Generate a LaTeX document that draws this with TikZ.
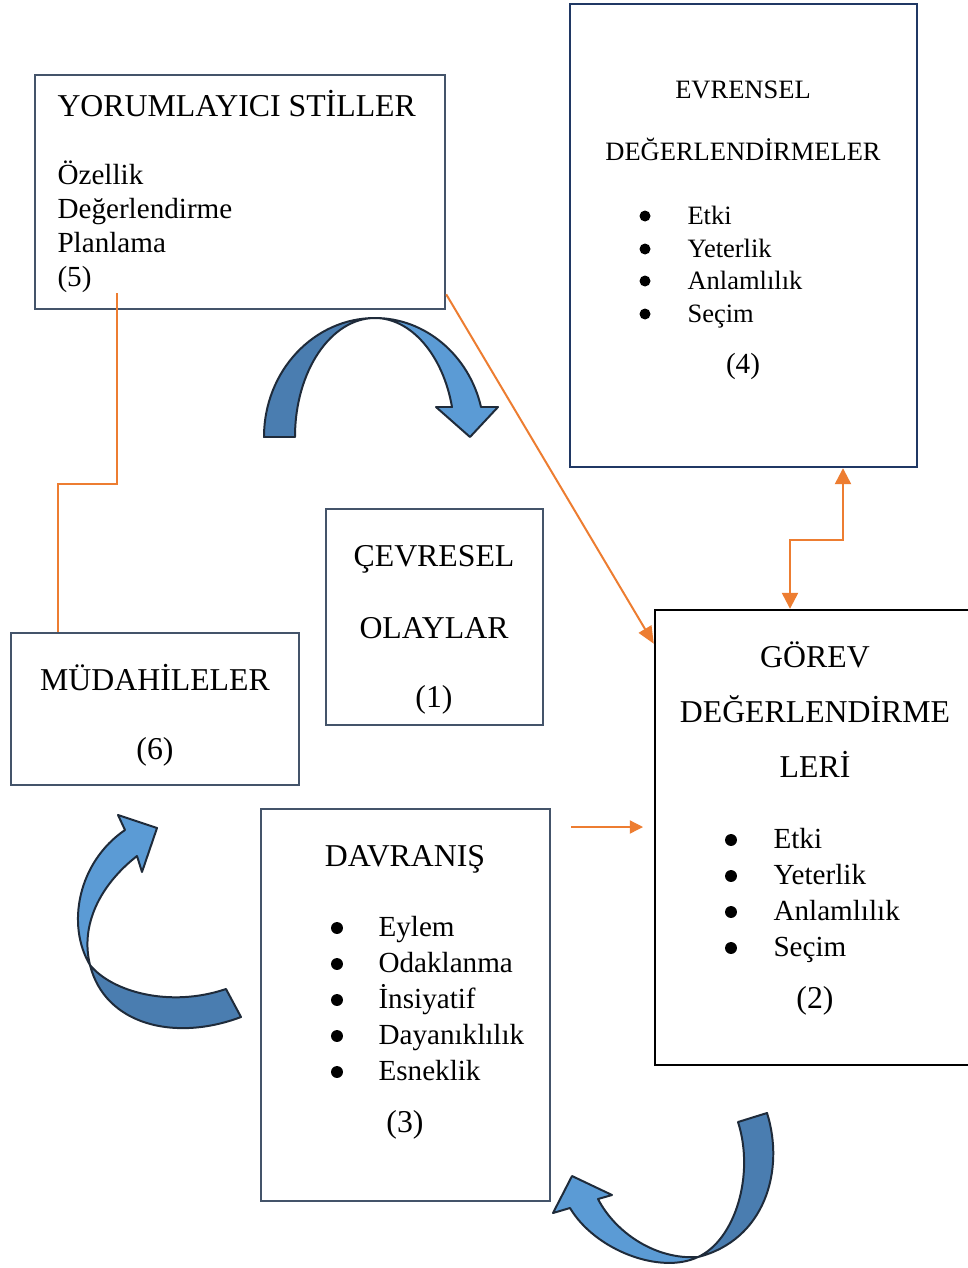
\documentclass[tikz,border=0pt]{standalone}
\usepackage{fontspec}
\setmainfont{Liberation Serif}
\usetikzlibrary{arrows.meta,fit,calc}
\definecolor{slate}{HTML}{44546A}
\definecolor{navy}{HTML}{203864}
\definecolor{orng}{HTML}{ED7D31}
\definecolor{bdark}{HTML}{4A7DB0}
\definecolor{blight}{HTML}{5B9BD5}
\definecolor{bline}{HTML}{1F2B3A}
\newcommand\fsA{\fontsize{12}{14}\selectfont}
\newcommand\fsB{\fontsize{11}{13}\selectfont}
\newcommand\fsC{\fontsize{10}{12}\selectfont}
\begin{document}
\begin{tikzpicture}[x=0.3774pt, y=-0.3774pt,
  box/.style={draw, line width=0.9pt, inner sep=0pt},
  txt/.style={inner sep=0pt, anchor=base},
  txtl/.style={inner sep=0pt, anchor=base west},
  bul/.style={circle, fill=black, inner sep=0pt, minimum size=4.5pt},
  buls/.style={circle, fill=black, inner sep=0pt, minimum size=4.15pt},
  band/.style={draw=bline, line width=0.75pt, line join=round},
  oline/.style={draw=orng, line width=0.75pt},
  othin/.style={draw=orng, line width=0.5pt}]
\clip (0,0) rectangle (968,1268);
\fill[white] (0,0) rectangle (968,1268);

% boxes
\node[box, draw=slate, fit={(35,75) (445,309)}] (b5) {};
\node[box, draw=navy, fit={(570,4) (917,467)}] (b4) {};
\node[box, draw=slate, fit={(326,509) (543,725)}] (b1) {};
\node[box, draw=slate, fit={(11,633) (299,785)}] (b6) {};
\node[box, draw=black, fit={(655,610) (985,1065)}] (b2) {};
\node[box, draw=slate, fit={(261,809) (550,1201)}] (b3) {};

% box 5 text
\node[txtl, font=\fsA] (t5a) at (57,116) {YORUMLAYICI STİLLER};
\node[txtl, font=\fsB] (t5b) at (57,184) {Özellik};
\node[txtl, font=\fsB] (t5c) at (57,218) {Değerlendirme};
\node[txtl, font=\fsB] (t5d) at (57,252) {Planlama};
\node[txtl, font=\fsB] (t5e) at (57,286) {(5)};

% box 4 text
\node[txt, font=\fsC] (t4a) at (743,98) {EVRENSEL};
\node[txt, font=\fsC] (t4b) at (743,160) {DEĞERLENDİRMELER};
\node[buls] (p4a) at (645,216) {};
\node[buls] (p4b) at (645,249) {};
\node[buls] (p4c) at (645,281) {};
\node[buls] (p4d) at (645,314) {};
\node[txtl, font=\fsC] (t4c) at (687,224) {Etki};
\node[txtl, font=\fsC] (t4d) at (687,257) {Yeterlik};
\node[txtl, font=\fsC] (t4e) at (687,289) {Anlamlılık};
\node[txtl, font=\fsC] (t4f) at (687,322) {Seçim};
\node[txt, font=\fsB] (t4g) at (743,373) {(4)};

% box 1 text
\node[txt, font=\fsA] (t1a) at (434,566) {ÇEVRESEL};
\node[txt, font=\fsA] (t1b) at (434,638) {OLAYLAR};
\node[txt, font=\fsA] (t1c) at (434,707) {(1)};

% box 6 text
\node[txt, font=\fsA] (t6a) at (155,690) {MÜDAHİLELER};
\node[txt, font=\fsA] (t6b) at (155,759) {(6)};

% box 2 text
\node[txt, font=\fsA] (t2a) at (815,667) {GÖREV};
\node[txt, font=\fsA] (t2b) at (815,722) {DEĞERLENDİRME};
\node[txt, font=\fsA] (t2c) at (815,777) {LERİ};
\node[bul] (p2a) at (731,840) {};
\node[bul] (p2b) at (731,876) {};
\node[bul] (p2c) at (731,912) {};
\node[bul] (p2d) at (731,948) {};
\node[txtl, font=\fsB] (t2d) at (773,848) {Etki};
\node[txtl, font=\fsB] (t2e) at (773,884) {Yeterlik};
\node[txtl, font=\fsB] (t2f) at (773,920) {Anlamlılık};
\node[txtl, font=\fsB] (t2g) at (773,956) {Seçim};
\node[txt, font=\fsA] (t2h) at (815,1008) {(2)};

% box 3 text
\node[txt, font=\fsA] (t3a) at (405,866) {DAVRANIŞ};
\node[bul] (p3a) at (337,928) {};
\node[bul] (p3b) at (337,964) {};
\node[bul] (p3c) at (337,1000) {};
\node[bul] (p3d) at (337,1036) {};
\node[bul] (p3e) at (337,1072) {};
\node[txtl, font=\fsB] (t3b) at (378,936) {Eylem};
\node[txtl, font=\fsB] (t3c) at (378,972) {Odaklanma};
\node[txtl, font=\fsB] (t3d) at (378,1008) {İnsiyatif};
\node[txtl, font=\fsB] (t3e) at (378,1044) {Dayanıklılık};
\node[txtl, font=\fsB] (t3f) at (378,1080) {Esneklik};
\node[txt, font=\fsA] (t3g) at (405,1132) {(3)};

% orange connectors
\draw[oline, -{Triangle[length=6.5pt,width=5.5pt]}]
  ([yshift=6pt]b5.south east) -- ([yshift=-13.2pt]b2.north west);
\draw[oline, line width=0.9pt, {Triangle[length=6pt,width=6pt]}-{Triangle[length=6pt,width=6pt]}]
  ([xshift=37.55pt]b4.south) -- ++(0,72) -| (b2.north -| 790,0);
\coordinate (c5) at (117,293);
\draw[othin] (c5) -- (117,484) -| (b6.north -| 58,0);
\coordinate (a1) at (571,827);
\coordinate (a2) at (643,827);
\draw[othin, -{Triangle[length=5pt,width=5pt]}] (a1) -- (a2);

% curved block arrows
% top arc
\filldraw[band, fill=bdark] (264,437) -- (295,437) .. controls (295,371) and (331,318) .. (375,318)
  .. controls (314,318) and (264,371) .. (264,437) -- cycle;
\filldraw[band, fill=blight] (375,318) .. controls (425,318) and (469,355) .. (481,407)
  -- (498,407) -- (470,437) -- (436,407) -- (452,407)
  .. controls (443,355) and (411,318) .. (375,318) -- cycle;
% left arc
\filldraw[band, fill=bdark] (90,965) .. controls (112,992) and (170,1008) .. (226,989)
  -- (241,1017) .. controls (175,1042) and (105,1025) .. (90,965) -- cycle;
\filldraw[band, fill=blight] (90,965) .. controls (66,925) and (78,862) .. (125,830)
  -- (118,815) -- (157,828) -- (142,872) -- (137,856)
  .. controls (100,885) and (80,925) .. (90,965) -- cycle;
% bottom arc
\filldraw[band, fill=bdark] (738,1122) -- (767,1113) .. controls (785,1170) and (765,1240) .. (698,1257)
  .. controls (735,1240) and (755,1175) .. (738,1122) -- cycle;
\filldraw[band, fill=blight] (698,1257) .. controls (660,1275) and (595,1250) .. (570,1208)
  -- (553,1213) -- (572,1176) -- (612,1195) -- (598,1199)
  .. controls (615,1232) and (655,1260) .. (698,1257) -- cycle;
\end{tikzpicture}
\end{document}
